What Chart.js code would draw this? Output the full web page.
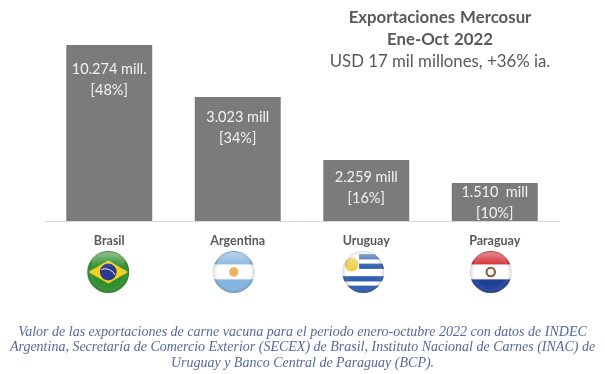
<!DOCTYPE html>
<html>
<head>
<meta charset="utf-8">
<script src="https://cdn.jsdelivr.net/npm/chart.js@4"></script>
<style>
  html, body { margin: 0; padding: 0; background: #fff; }
  #wrap { position: relative; width: 605px; height: 374px; overflow: hidden; }
  #c { position: absolute; left: 0; top: 0; }
  .title { position: absolute; left: 310px; width: 260px; top: 6px; text-align: center; color: #595959; font-family: Lato, sans-serif; font-size: 16.8px; line-height: 22px; }
  .title b { font-weight: 700; word-spacing: 1px; }
  .note { position: absolute; left: 0; width: 605px; top: 324px; text-align: center; color: #56699c; font-family: "Liberation Serif", serif; font-style: italic; font-size: 14px; line-height: 15.3px; }
</style>
</head>
<body>
<div id="wrap">
  <canvas id="c" width="605" height="374"></canvas>
  <div class="title"><b>Exportaciones Mercosur</b><br><b>Ene-Oct 2022</b><br>USD 17 mil millones, +36% ia.</div>
  <div class="note">Valor de las exportaciones de carne vacuna para el periodo enero-octubre 2022 con datos de INDEC<br>Argentina, Secretaría de Comercio Exterior (SECEX) de Brasil, Instituto Nacional de Carnes (INAC) de<br>Uruguay y Banco Central de Paraguay (BCP).</div>
</div>
<script>
// datos
const countries = ['Brasil', 'Argentina', 'Uruguay', 'Paraguay'];
// altura dibujada de cada barra, con Brasil = 100 (las barras del original no son proporcionales a los rotulos)
const barHeights = [100, 70.5, 34.7, 21.6];
const valueLabels = ['10.274 mill.', '3.023 mill', '2.259 mill', '1.510  mill'];
const shareLabels = ['[48%]', '[34%]', '[16%]', '[10%]'];
const labelOffsets = [24, 20, 17, 9];
const flagOffsets = [-1, -4, -3, -4];

function disc(ctx, x, y, r, paint) {
    ctx.save();
    ctx.beginPath();
    ctx.arc(x, y, r, 0, Math.PI * 2);
    ctx.clip();
    ctx.translate(x, y);
    ctx.scale(r / 20, r / 20);
    paint(ctx);
    ctx.restore();
    // brillo
    ctx.save();
    const g = ctx.createRadialGradient(x, y, r * 0.7, x, y, r);
    g.addColorStop(0, 'rgba(255,255,255,0)');
    g.addColorStop(1, 'rgba(60,60,60,0.22)');
    ctx.fillStyle = g;
    ctx.beginPath();
    ctx.arc(x, y, r, 0, Math.PI * 2);
    ctx.fill();
    const top = ctx.createLinearGradient(0, y - r, 0, y - r * 0.2);
    top.addColorStop(0, 'rgba(255,255,255,0.45)');
    top.addColorStop(1, 'rgba(255,255,255,0)');
    ctx.fillStyle = top;
    ctx.beginPath();
    ctx.ellipse(x, y - r * 0.5, r * 0.8, r * 0.45, 0, 0, Math.PI * 2);
    ctx.fill();
    ctx.restore();
}

function band(ctx, y0, y1, color) {
    ctx.fillStyle = color;
    ctx.fillRect(-22, y0, 44, y1 - y0);
}

const flagPainters = [
    function (ctx) {
        band(ctx, -22, 22, '#2f8f2e');
        ctx.fillStyle = '#f2d21c';
        ctx.beginPath();
        ctx.moveTo(-19, 0); ctx.lineTo(0, -11); ctx.lineTo(19, 0); ctx.lineTo(0, 11);
        ctx.closePath();
        ctx.fill();
        ctx.fillStyle = '#2b3a8f';
        ctx.beginPath();
        ctx.arc(0, 0, 8, 0, Math.PI * 2);
        ctx.fill();
        ctx.strokeStyle = '#e8e8f0';
        ctx.lineWidth = 1;
        ctx.beginPath();
        ctx.arc(-3, 8, 11, -1.9, -0.5);
        ctx.stroke();
    },
    function (ctx) {
        band(ctx, -22, -7, '#83b4e0');
        band(ctx, -7, 7, '#ffffff');
        band(ctx, 7, 22, '#83b4e0');
        ctx.fillStyle = '#f0b060';
        ctx.beginPath();
        ctx.arc(0, 0, 4.5, 0, Math.PI * 2);
        ctx.fill();
    },
    function (ctx) {
        band(ctx, -22, 22, '#ffffff');
        [[-17, -12], [-8, -3], [4, 9], [13, 20]].forEach(function (s, i) {
            ctx.fillStyle = '#2f5fae';
            ctx.fillRect(i < 2 ? -4 : -22, s[0], 44, s[1] - s[0]);
        });
        ctx.fillStyle = '#ffffff';
        ctx.fillRect(-22, -22, 18, 24);
        ctx.fillStyle = '#f0d050';
        ctx.beginPath();
        ctx.arc(-11, -7, 6.5, 0, Math.PI * 2);
        ctx.fill();
    },
    function (ctx) {
        band(ctx, -22, -7, '#d5202a');
        band(ctx, -7, 7, '#ffffff');
        band(ctx, 7, 22, '#22409a');
        ctx.strokeStyle = '#8a5a40';
        ctx.lineWidth = 2;
        ctx.beginPath();
        ctx.arc(0, 0, 4, 0, Math.PI * 2);
        ctx.stroke();
    }
];

// rotulos dentro de las barras y banderas bajo cada categoria
const barExtras = {
    id: 'barExtras',
    afterDatasetsDraw(chart) {
        const ctx = chart.ctx;
        const meta = chart.getDatasetMeta(0);
        ctx.save();
        ctx.textAlign = 'center';
        ctx.textBaseline = 'middle';
        ctx.fillStyle = '#f2f2f2';
        ctx.font = '14.5px Lato, sans-serif';
        meta.data.forEach(function (bar, i) {
            ctx.fillText(valueLabels[i], bar.x, bar.y + labelOffsets[i]);
            ctx.fillText(shareLabels[i], bar.x, bar.y + labelOffsets[i] + 21);
        });
        ctx.restore();
        meta.data.forEach(function (bar, i) {
            disc(ctx, bar.x + flagOffsets[i], 272, 21, flagPainters[i]);
        });
    }
};

new Chart(document.getElementById('c'), {
    type: 'bar',
    data: {
        labels: countries,
        datasets: [{
            data: barHeights,
            backgroundColor: '#7b7b7b',
            borderWidth: 0,
            barPercentage: 0.669,
            categoryPercentage: 1
        }]
    },
    plugins: [barExtras],
    options: {
        responsive: false,
        animation: false,
        layout: { padding: { left: 45, right: 46, top: 45, bottom: 114 } },
        plugins: { legend: { display: false }, tooltip: { enabled: false }, title: { display: false } },
        scales: {
            x: {
                grid: { display: false, drawTicks: false },
                border: { color: '#d9d9d9', width: 1 },
                ticks: { color: '#595959', padding: 12, font: { family: 'Lato, sans-serif', size: 12.5, weight: 'bold' } }
            },
            y: { display: false, min: 0, max: 100 }
        }
    }
});
</script>
</body>
</html>
